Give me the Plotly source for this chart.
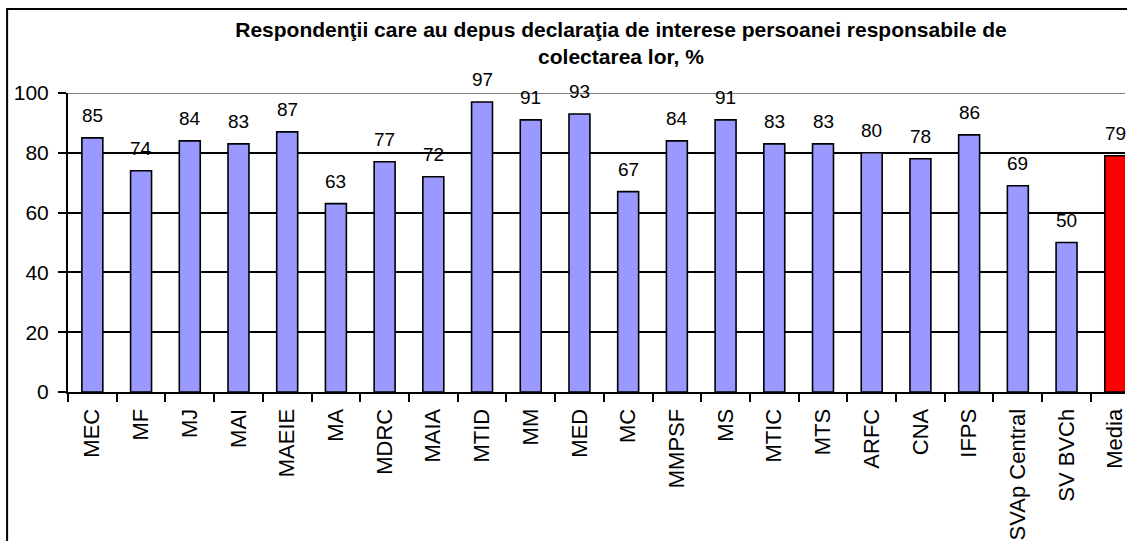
import plotly.graph_objects as go

categories = ["MEC", "MF", "MJ", "MAI", "MAEIE", "MA", "MDRC", "MAIA", "MTID", "MM", "MED",
              "MC", "MMPSF", "MS", "MTIC", "MTS", "ARFC", "CNA", "IFPS", "SVAp Central",
              "SV BVCh", "Media"]
values = [85, 74, 84, 83, 87, 63, 77, 72, 97, 91, 93, 67, 84, 91, 83, 83, 80, 78, 86, 69, 50, 79]
y_ticks = [0, 20, 40, 60, 80, 100]
title_text = "Respondenţii care au depus declaraţia de interese persoanei responsabile de<br>colectarea lor, %"

FONT = "Arial, 'Liberation Sans', sans-serif"
colors = ["#FF0000" if c == "Media" else "#9999FF" for c in categories]

fig = go.Figure()
fig.add_trace(go.Bar(
    x=categories, y=values,
    marker=dict(color=colors, line=dict(color="black", width=1.6)),
    width=0.43,
    hoverinfo="x+y",
))

for c, v in zip(categories, values):
    fig.add_annotation(x=c, y=v, text=str(v), showarrow=False,
                       yanchor="bottom", yshift=10,
                       font=dict(family=FONT, size=19, color="black"))

# chart outer border (left and top edges visible), in paper coordinates
fig.add_shape(type="line", xref="paper", yref="paper",
              x0=-0.0576, x1=-0.0576, y0=-0.7, y1=1.281,
              line=dict(color="black", width=2), layer="above")
fig.add_shape(type="line", xref="paper", yref="paper",
              x0=-0.0585, x1=1.05, y0=1.281, y1=1.281,
              line=dict(color="black", width=2), layer="above")
# plot-area top border (gray)
fig.add_shape(type="line", xref="paper", yref="y", x0=0, x1=1, y0=100, y1=100,
              line=dict(color="#808080", width=2), layer="above")

fig.update_layout(
    width=1127, height=541,
    paper_bgcolor="white", plot_bgcolor="white",
    margin=dict(l=68, r=0, t=93, b=149, pad=0),
    showlegend=False,
    bargap=0.57,
    font=dict(family=FONT, color="black"),
    title=dict(text="<b>" + title_text + "</b>", x=0.551, xanchor="center",
               xref="container", y=0.932, yanchor="top", yref="container",
               font=dict(family=FONT, size=21, color="black")),
)
fig.update_xaxes(
    type="category", range=[-0.5, 21.2],
    showline=True, linecolor="black", linewidth=2,
    ticks="outside", tickson="boundaries", ticklen=8, tickwidth=2, tickcolor="black",
    tickangle=-90, tickfont=dict(family=FONT, size=22, color="black"),
    ticklabelstandoff=6,
    showgrid=False, zeroline=False,
)
fig.update_yaxes(
    range=[0, 100], tickvals=y_ticks,
    showline=True, linecolor="black", linewidth=2,
    ticks="outside", ticklen=8, tickwidth=2, tickcolor="black",
    tickfont=dict(family=FONT, size=21, color="black"),
    ticklabelstandoff=5,
    showgrid=True, gridcolor="black", gridwidth=1.5,
    zeroline=False,
)

fig.write_html("out.html", config={"displayModeBar": False},
               post_script="document.body.style.margin='0';")
